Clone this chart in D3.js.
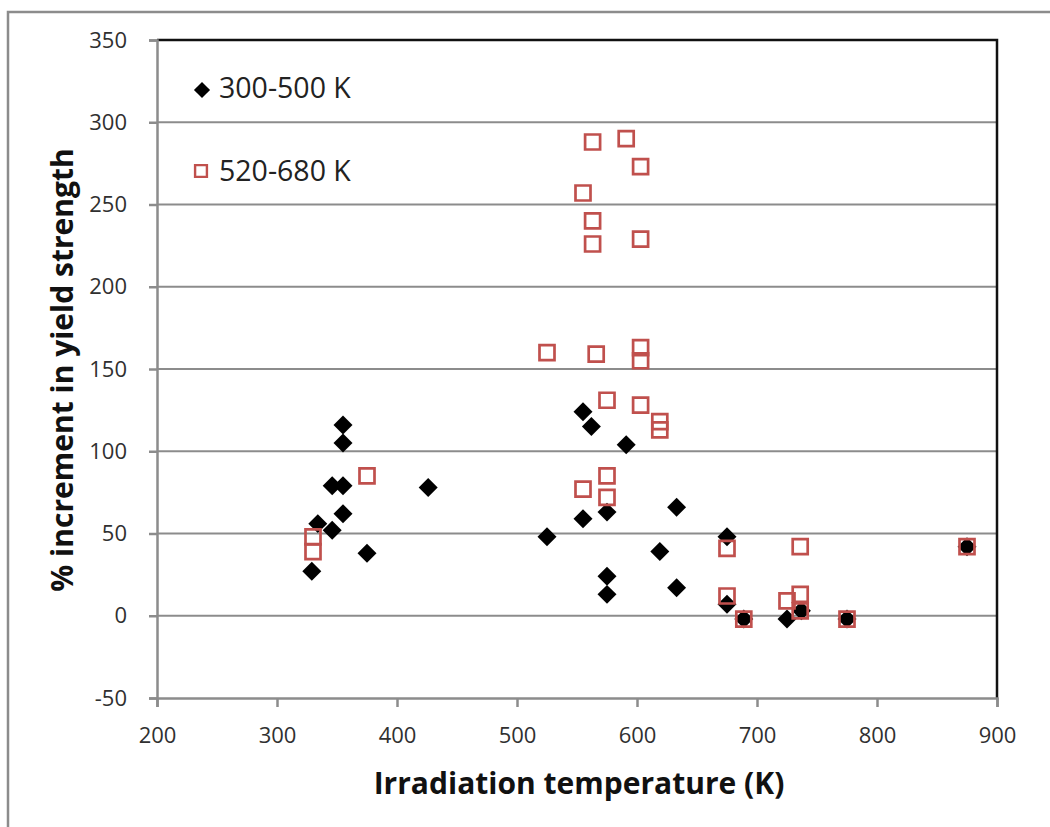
<!DOCTYPE html>
<html>
<head>
<meta charset="utf-8">
<script src="https://cdn.jsdelivr.net/npm/d3@7"></script>
<style>
  html, body { margin: 0; padding: 0; background: #fff; }
  svg { display: block; }
  text { font-family: "Open Sans", "DejaVu Sans", sans-serif; }
</style>
</head>
<body>
<div id="chart"></div>
<script>
// Irradiation temperature (K) and % increment in yield strength, per test-temperature group
const lowTempX = [329, 334, 346, 346, 355, 355, 355, 355, 375, 426, 525, 555, 562, 591, 555, 575, 575, 575, 619, 633, 633, 675, 675, 689, 725, 737, 775, 875];
const lowTempY = [27, 56, 52, 79, 79, 116, 105, 62, 38, 78, 48, 124, 115, 104, 59, 63, 24, 13, 39, 66, 17, 48, 7, -2, -2, 3, -2, 42];

const highTempX = [330, 330, 375, 525, 555, 563, 563, 563, 591, 603, 603, 566, 603, 603, 575, 603, 619, 619, 555, 575, 575, 675, 675, 689, 725, 736, 736, 736, 775, 875];
const highTempY = [48, 39, 85, 160, 257, 288, 240, 226, 290, 273, 229, 159, 163, 155, 131, 128, 118, 113, 77, 85, 72, 41, 12, -2, 9, 42, 13, 3, -2, 42];

const seriesNames = ["300-500 K", "520-680 K"];
const xTicks = [200, 300, 400, 500, 600, 700, 800, 900];
const yTicks = [-50, 0, 50, 100, 150, 200, 250, 300, 350];

(function () {
const W = 1050, H = 827;
const plotL = 157, plotR = 997, plotT = 40, plotB = 698;
const red = "#c0504d";
const grid = "#8c8c8c";
const label = "#303030";

const svg = d3.select("#chart").append("svg").attr("width", W).attr("height", H);

// outer chart frame
svg.append("rect").attr("x", 8).attr("y", 12).attr("width", 1100).attr("height", 900)
  .attr("fill", "none").attr("stroke", grid).attr("stroke-width", 2.5);

const x = d3.scaleLinear().domain([200, 900]).range([plotL, plotR]);
const y = d3.scaleLinear().domain([-50, 350]).range([plotB, plotT]);

// horizontal gridlines
svg.append("g").selectAll("line").data(yTicks.filter(v => v > -50 && v < 350)).join("line")
  .attr("x1", plotL).attr("x2", plotR).attr("y1", d => y(d)).attr("y2", d => y(d))
  .attr("stroke", grid).attr("stroke-width", 2);

// top and right plot borders
svg.append("path")
  .attr("d", `M${plotL},${y(350)}H${x(900)}V${y(-50)}`)
  .attr("fill", "none").attr("stroke", "#111").attr("stroke-width", 2.5);

const plain = d => String(d);

// y axis
const yAxis = svg.append("g").attr("transform", `translate(${plotL},0)`)
  .call(d3.axisLeft(y).tickValues(yTicks).tickFormat(plain).tickSize(8).tickPadding(22));
yAxis.select(".domain").attr("stroke", grid).attr("stroke-width", 2.5);
yAxis.selectAll(".tick line").attr("stroke", grid).attr("stroke-width", 2.5);
yAxis.selectAll(".tick text").attr("fill", label).attr("font-size", 22)
  .attr("font-family", "'Open Sans', sans-serif");

// x axis
const xAxis = svg.append("g").attr("transform", `translate(0,${plotB})`)
  .call(d3.axisBottom(x).tickValues(xTicks).tickFormat(plain).tickSize(9).tickPadding(20));
xAxis.select(".domain").attr("stroke", grid).attr("stroke-width", 2.5);
xAxis.selectAll(".tick line").attr("stroke", grid).attr("stroke-width", 2.5);
xAxis.selectAll(".tick text").attr("fill", label).attr("font-size", 22)
  .attr("font-family", "'Open Sans', sans-serif");

// axis titles
svg.append("text").attr("x", 579).attr("y", 794).attr("text-anchor", "middle")
  .attr("font-size", 30).attr("font-weight", "bold").attr("fill", "#111")
  .text("Irradiation temperature (K)");
svg.append("text").attr("transform", "translate(73,370) rotate(-90)")
  .attr("text-anchor", "middle").attr("font-size", 30).attr("font-weight", "bold").attr("fill", "#111")
  .text("% increment in yield strength");

// markers
const diamond = d3.symbol().type(d3.symbolSquare).size(180);
const square = d3.symbol().type(d3.symbolSquare).size(225);

const low = lowTempX.map((v, i) => ({ x: v, y: lowTempY[i] }));
const high = highTempX.map((v, i) => ({ x: v, y: highTempY[i] }));

svg.append("g").selectAll("path").data(low).join("path")
  .attr("d", diamond)
  .attr("transform", d => `translate(${x(d.x)},${y(d.y)}) rotate(45)`)
  .attr("fill", "#000");

svg.append("g").selectAll("path").data(high).join("path")
  .attr("d", square)
  .attr("transform", d => `translate(${x(d.x)},${y(d.y)})`)
  .attr("fill", "none").attr("stroke", red).attr("stroke-width", 2.7);

// legend
const lg = svg.append("g");
lg.append("path").attr("d", d3.symbol().type(d3.symbolSquare).size(130))
  .attr("transform", "translate(202,90) rotate(45)").attr("fill", "#000");
lg.append("text").attr("x", 219).attr("y", 98).attr("font-size", 28.5).attr("fill", "#222")
  .text(seriesNames[0]);
lg.append("path").attr("d", d3.symbol().type(d3.symbolSquare).size(140))
  .attr("transform", "translate(201,171)").attr("fill", "none").attr("stroke", red).attr("stroke-width", 2.4);
lg.append("text").attr("x", 219).attr("y", 181).attr("font-size", 28.5).attr("fill", "#222")
  .text(seriesNames[1]);
})();
</script>
</body>
</html>
